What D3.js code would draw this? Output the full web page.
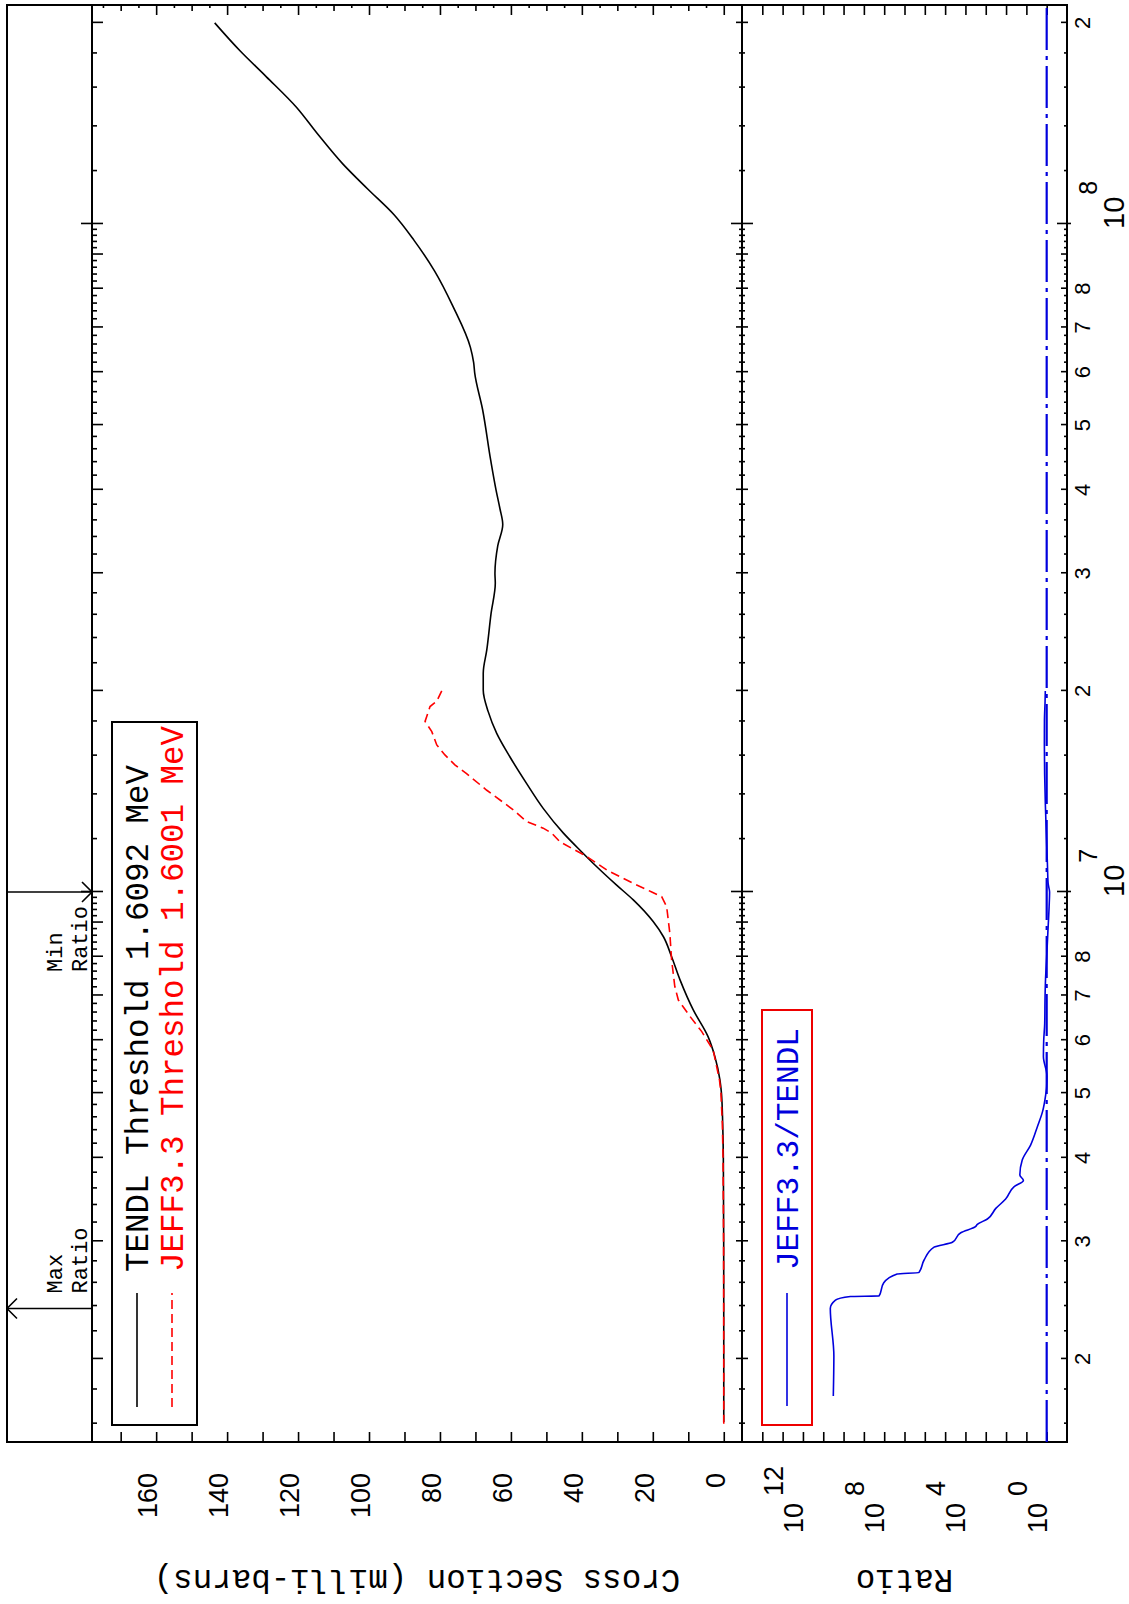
<!DOCTYPE html>
<html>
<head>
<meta charset="utf-8">
<script src="https://cdn.jsdelivr.net/npm/d3@7"></script>
<style>
  html, body { margin: 0; padding: 0; background: #fff; }
  svg { display: block; }
</style>
</head>
<body>
<script>
// Incident energy (eV) and cross section (milli-barns) for the TENDL evaluation
const tendlEnergy = [1.6092e6, 2.0e6, 3.0e6, 4.0e6, 4.5e6, 5.0e6, 5.23e6, 5.67e6, 6.07e6, 6.66e6,
  7.38e6, 8.0e6, 8.57e6, 9.03e6, 9.73e6, 1.024e7, 1.091e7, 1.149e7, 1.225e7, 1.334e7,
  1.454e7, 1.594e7, 1.728e7, 1.862e7, 2.006e7, 2.126e7, 2.303e7, 2.61e7, 2.9e7, 3.0e7,
  3.3e7, 3.55e7, 3.75e7, 4.0e7, 4.43e7, 5.28e7, 5.98e7, 6.2e7, 6.53e7, 7.52e7,
  8.5e7, 9.45e7, 1.033e8, 1.127e8, 1.23e8, 1.368e8, 1.494e8, 1.662e8, 1.815e8, 2.0e8];
const tendlXS = [0, 0, 0.02, 0.12, 0.3, 0.65, 1.07, 2.5, 4.4, 8.6,
  12.3, 14.7, 17.0, 19.9, 25.5, 30.2, 35.8, 40.1, 45.2, 50.9,
  55.6, 60.3, 64.0, 66.4, 67.8, 67.8, 66.8, 65.6, 64.4, 64.5,
  63.7, 62.3, 63.1, 64.2, 65.7, 68.0, 70.2, 70.5, 71.4, 76.3,
  81.5, 87.3, 93.0, 100.3, 107.4, 114.7, 120.4, 129.0, 136.3, 143.5];

// JEFF3.3 evaluation
const jeffEnergy = [1.6001e6, 2.0e6, 3.0e6, 4.0e6, 4.5e6, 5.0e6, 5.23e6, 5.8e6, 6.18e6, 6.51e6,
  6.89e6, 7.22e6, 7.91e6, 8.67e6, 9.51e6, 9.84e6, 1.0e7, 1.03e7, 1.079e7, 1.13e7,
  1.189e7, 1.225e7, 1.246e7, 1.275e7, 1.327e7, 1.42e7, 1.504e7, 1.55e7, 1.604e7, 1.66e7,
  1.738e7, 1.8e7, 1.895e7, 1.93e7, 2.0e7];
const jeffXS = [0, 0, 0.05, 0.2, 0.4, 0.8, 1.2, 3.0, 6.2, 9.5,
  12.8, 13.8, 14.7, 15.2, 16.1, 17.5, 20.3, 25.5, 33.0, 38.6,
  46.2, 48.5, 50.9, 55.6, 59.3, 66.8, 72.5, 75.8, 78.6, 80.9,
  82.3, 84.2, 82.8, 80.9, 79.5];

// JEFF3.3 / TENDL ratio
const ratioEnergy = [1.76e6, 2.02e6, 2.38e6, 2.45e6, 2.48e6, 2.485e6, 2.6e6, 2.68e6, 2.695e6, 2.81e6,
  2.94e6, 2.99e6, 3.09e6, 3.155e6, 3.18e6, 3.24e6, 3.36e6, 3.47e6, 3.62e6, 3.70e6,
  3.77e6, 3.97e6, 4.18e6, 4.45e6, 4.69e6, 4.97e6, 5.11e6, 5.3e6, 5.67e6, 6.0e6,
  6.36e6, 7.0e6, 7.4e6, 8.0e6, 8.67e6, 9.5e6, 1.0e7, 1.03e7, 1.1e7, 1.2e7,
  1.35e7, 1.5e7, 1.66e7, 1.8e7, 1.93e7, 2.0e7];
const ratioValue = [3.2e10, 3.0e10, 4.5e10, 2.5e10, 4.6e9, 1.8e8, 1.05e8, 2.3e7, 1.95e6, 1.1e6,
  3.5e5, 4.4e4, 1.7e4, 3.2e3, 2.6e3, 830, 320, 105, 41, 14,
  21, 16, 6.2, 2.9, 1.6, 1.12, 1.0, 0.97, 1.45, 1.4,
  1.25, 1.2, 1.14, 1.0, 0.88, 0.76, 0.72, 0.85, 0.92, 1.02,
  1.16, 1.26, 1.3, 1.29, 1.2, 1.17];

// Axis tick values and labels
const xsLabelTicks = [0, 20, 40, 60, 80, 100, 120, 140, 160];
const ratioLabelExponents = [0, 4, 8, 12];
const energyDigitLabels = [2e6, 3e6, 4e6, 5e6, 6e6, 7e6, 8e6, 2e7, 3e7, 4e7, 5e7, 6e7, 7e7, 8e7, 2e8];
const energyDecadeLabels = [{ value: 1e7, exp: "7" }, { value: 1e8, exp: "8" }];
const legendLabels = ["TENDL Threshold 1.6092 MeV", "JEFF3.3 Threshold 1.6001 MeV"];
const ratioLegendLabel = "JEFF3.3/TENDL";

const PAGE_W = 1129, PAGE_H = 1604;
const MONO = "'Liberation Mono', 'DejaVu Sans Mono', monospace";
const SANS = "'Liberation Sans', Arial, sans-serif";

const svg = d3.select("body").append("svg")
  .attr("width", PAGE_W).attr("height", PAGE_H)
  .attr("viewBox", `0 0 ${PAGE_W} ${PAGE_H}`);
svg.append("rect").attr("width", PAGE_W).attr("height", PAGE_H).attr("fill", "#fff");

// The plot is laid out in landscape and turned a quarter turn counter-clockwise
const g = svg.append("g").attr("transform", `translate(0,${PAGE_H}) rotate(-90)`);

const left = 162, right = 1599, frameTop = 7, plotTop = 92, divider = 742, bottom = 1067;

const x = d3.scaleLog().domain([1.502e6, 2.127e8]).range([left, right]);
const yXS = d3.scaleLinear().domain([-5, 178]).range([741.5, 92.3]);
const yR = d3.scaleLog().domain([1e-1, 1e15]).range([bottom, divider]);

const defs = svg.append("defs");
defs.append("clipPath").attr("id", "clipTop").append("rect")
  .attr("x", left).attr("y", plotTop).attr("width", right - left).attr("height", divider - plotTop);
defs.append("clipPath").attr("id", "clipRatio").append("rect")
  .attr("x", left).attr("y", divider).attr("width", right - left).attr("height", bottom - divider);

// Energy tick sets: decades, integer multiples, and 0.2 steps
const decadeTicks = [], intTicks = [], minorTicks = [];
[1e6, 1e7, 1e8].forEach(d => {
  for (let k = 5; k < 50; k++) {
    const v = d * k / 5;
    if (v < x.domain()[0] || v > x.domain()[1]) continue;
    if (k === 5) decadeTicks.push(v);
    else if (k % 5 === 0) intTicks.push(v);
    else minorTicks.push(v);
  }
});

function tickAxis(axisFn, scale, values, size, transform) {
  const a = g.append("g").attr("transform", transform)
    .call(axisFn(scale).tickValues(values).tickSize(size).tickFormat(""));
  a.select(".domain").remove();
  a.selectAll(".tick line").attr("stroke", "#000").attr("stroke-width", 1.6);
  return a;
}

// Energy ticks on the top of the cross-section panel
tickAxis(d3.axisBottom, x, decadeTicks, 11, `translate(0,${plotTop})`);
tickAxis(d3.axisTop, x, decadeTicks, 11, `translate(0,${plotTop})`);
tickAxis(d3.axisBottom, x, intTicks, 11, `translate(0,${plotTop})`);
tickAxis(d3.axisBottom, x, minorTicks, 5, `translate(0,${plotTop})`);
// Energy ticks on the divider between the panels
tickAxis(d3.axisBottom, x, decadeTicks, 11, `translate(0,${divider})`);
tickAxis(d3.axisTop, x, decadeTicks, 11, `translate(0,${divider})`);
tickAxis(d3.axisBottom, x, intTicks, 6, `translate(0,${divider})`);
tickAxis(d3.axisTop, x, intTicks, 6, `translate(0,${divider})`);
tickAxis(d3.axisBottom, x, minorTicks, 3, `translate(0,${divider})`);
tickAxis(d3.axisTop, x, minorTicks, 3, `translate(0,${divider})`);
// Energy ticks on the bottom frame
tickAxis(d3.axisTop, x, decadeTicks, 10, `translate(0,${bottom})`);
tickAxis(d3.axisBottom, x, decadeTicks, 4, `translate(0,${bottom})`);
tickAxis(d3.axisTop, x, intTicks, 6, `translate(0,${bottom})`);
tickAxis(d3.axisTop, x, minorTicks, 3, `translate(0,${bottom})`);

// Cross-section ticks
const xs10 = d3.range(0, 171, 10), xs20 = d3.range(0, 161, 20);
const xs10only = xs10.filter(v => v % 20 !== 0), xs5 = d3.range(5, 176, 10);
tickAxis(d3.axisRight, yXS, xs10, 10, `translate(${left},0)`);
tickAxis(d3.axisLeft, yXS, xs20, 10, `translate(${right},0)`);
tickAxis(d3.axisLeft, yXS, xs10only, 6, `translate(${right},0)`);
tickAxis(d3.axisLeft, yXS, xs5, 3, `translate(${right},0)`);

// Ratio ticks, one per decade
const ratioTicks = d3.range(0, 15).map(e => Math.pow(10, e));
tickAxis(d3.axisRight, yR, ratioTicks, 10, `translate(${left},0)`);
tickAxis(d3.axisLeft, yR, ratioTicks, 10, `translate(${right},0)`);

// Frame and panel separators
g.append("rect").attr("x", left).attr("y", frameTop).attr("width", right - left).attr("height", bottom - frameTop)
  .attr("fill", "none").attr("stroke", "#000").attr("stroke-width", 2);
[plotTop, divider].forEach(yy => g.append("line")
  .attr("x1", left).attr("x2", right).attr("y1", yy).attr("y2", yy)
  .attr("stroke", "#000").attr("stroke-width", 2));

// Cross-section curves
const lineXS = d3.line().x(d => x(d[0])).y(d => yXS(d[1]));
const xsPanel = g.append("g").attr("clip-path", "url(#clipTop)");
xsPanel.append("path").datum(d3.zip(tendlEnergy, tendlXS))
  .attr("d", lineXS.curve(d3.curveMonotoneX)).attr("fill", "none")
  .attr("stroke", "#000").attr("stroke-width", 1.6);
xsPanel.append("path").datum(d3.zip(jeffEnergy, jeffXS))
  .attr("d", lineXS.curve(d3.curveLinear)).attr("fill", "none")
  .attr("stroke", "#ff0000").attr("stroke-width", 1.6).attr("stroke-dasharray", "9,5");

// Ratio panel
const ratioPanel = g.append("g").attr("clip-path", "url(#clipRatio)");
ratioPanel.append("line").attr("x1", left).attr("x2", right).attr("y1", yR(1)).attr("y2", yR(1))
  .attr("stroke", "#0000dd").attr("stroke-width", 2.2).attr("stroke-dasharray", "42,6,4,6");
ratioPanel.append("path").datum(d3.zip(ratioEnergy, ratioValue))
  .attr("d", d3.line().x(d => x(d[0])).y(d => yR(d[1])).curve(d3.curveMonotoneX))
  .attr("fill", "none").attr("stroke", "#0000dd").attr("stroke-width", 1.6);

// Cross-section tick labels
g.append("g").selectAll("text").data(xsLabelTicks).join("text")
  .attr("x", 131).attr("y", d => yXS(d) + 1)
  .attr("text-anchor", "end").attr("font-family", SANS).attr("font-size", 27)
  .text(d => d);

// Ratio tick labels, 10 with a raised exponent
const rl = g.append("g").selectAll("text").data(ratioLabelExponents).join("text")
  .attr("x", 71).attr("y", d => yR(Math.pow(10, d)))
  .attr("font-family", SANS).attr("font-size", 27);
rl.append("tspan").text("10");
rl.append("tspan").attr("dx", 7).attr("dy", -20).text(d => d);

// Energy labels under the frame
g.append("g").selectAll("text").data(energyDigitLabels).join("text")
  .attr("x", d => x(d)).attr("y", 1090).attr("text-anchor", "middle")
  .attr("font-family", SANS).attr("font-size", 22)
  .text(d => Math.round(d / Math.pow(10, Math.floor(Math.log10(d) + 1e-9))));
const dl = g.append("g").selectAll("text").data(energyDecadeLabels).join("text")
  .attr("x", d => x(d.value) - 5).attr("y", 1124)
  .attr("font-family", SANS).attr("font-size", 29);
dl.append("tspan").text("10");
dl.append("tspan").attr("dx", 2).attr("dy", -27).attr("font-size", 25).text(d => d.exp);

// Axis titles
const topMid = (plotTop + divider) / 2, ratioMid = (divider + bottom) / 2;
g.append("text").attr("transform", `translate(34,${topMid}) rotate(-90)`)
  .attr("text-anchor", "middle").attr("font-family", MONO).attr("font-size", 32.5)
  .text("Cross Section (milli-barns)");
g.append("text").attr("transform", `translate(34,${ratioMid}) rotate(-90)`)
  .attr("text-anchor", "middle").attr("font-family", MONO).attr("font-size", 32.5)
  .text("Ratio");

// Max / Min ratio markers
const iMax = d3.maxIndex(ratioValue), iMin = d3.minIndex(ratioValue);
const xMax = x(ratioEnergy[iMax]), xMin = x(ratioEnergy[iMin]);
function arrow(xa, tipY, baseY) {
  const dir = tipY < baseY ? 1 : -1;
  g.append("line").attr("x1", xa).attr("x2", xa).attr("y1", baseY).attr("y2", tipY)
    .attr("stroke", "#000").attr("stroke-width", 1.6);
  g.append("path").attr("d", `M${xa - 10},${tipY + dir * 10}L${xa},${tipY}L${xa + 10},${tipY + dir * 10}`)
    .attr("fill", "none").attr("stroke", "#000").attr("stroke-width", 1.6);
}
arrow(xMax, frameTop, plotTop);
arrow(xMin, plotTop, frameTop);
function note(x0, first) {
  const t = g.append("g").attr("font-family", MONO).attr("font-size", 22);
  t.append("text").attr("x", x0).attr("y", 62).text(first);
  t.append("text").attr("x", x0).attr("y", 87).text("Ratio");
}
note(xMax + 15, "Max");
note(xMin - 14 - 5 * 0.6 * 22, "Min");

// Cross-section legend
const lg = g.append("g");
lg.append("rect").attr("x", 179).attr("y", 112).attr("width", 703).attr("height", 85)
  .attr("fill", "#fff").attr("stroke", "#000").attr("stroke-width", 2);
lg.append("line").attr("x1", 197).attr("x2", 311).attr("y1", 137).attr("y2", 137)
  .attr("stroke", "#000").attr("stroke-width", 1.6);
lg.append("line").attr("x1", 197).attr("x2", 311).attr("y1", 172).attr("y2", 172)
  .attr("stroke", "#ff0000").attr("stroke-width", 1.6).attr("stroke-dasharray", "9,5");
lg.append("text").attr("x", 332).attr("y", 148).attr("font-family", MONO).attr("font-size", 32.5)
  .attr("fill", "#000").text(legendLabels[0]);
lg.append("text").attr("x", 332).attr("y", 183).attr("font-family", MONO).attr("font-size", 32.5)
  .attr("fill", "#ff0000").text(legendLabels[1]);

// Ratio legend
const rlg = g.append("g");
rlg.append("rect").attr("x", 179).attr("y", 762).attr("width", 415).attr("height", 50)
  .attr("fill", "#fff").attr("stroke", "#ee0000").attr("stroke-width", 2);
rlg.append("line").attr("x1", 198).attr("x2", 311).attr("y1", 787).attr("y2", 787)
  .attr("stroke", "#0000dd").attr("stroke-width", 1.6);
rlg.append("text").attr("x", 334).attr("y", 798).attr("font-family", MONO).attr("font-size", 31)
  .attr("fill", "#0000dd").text(ratioLegendLabel);
</script>
</body>
</html>
